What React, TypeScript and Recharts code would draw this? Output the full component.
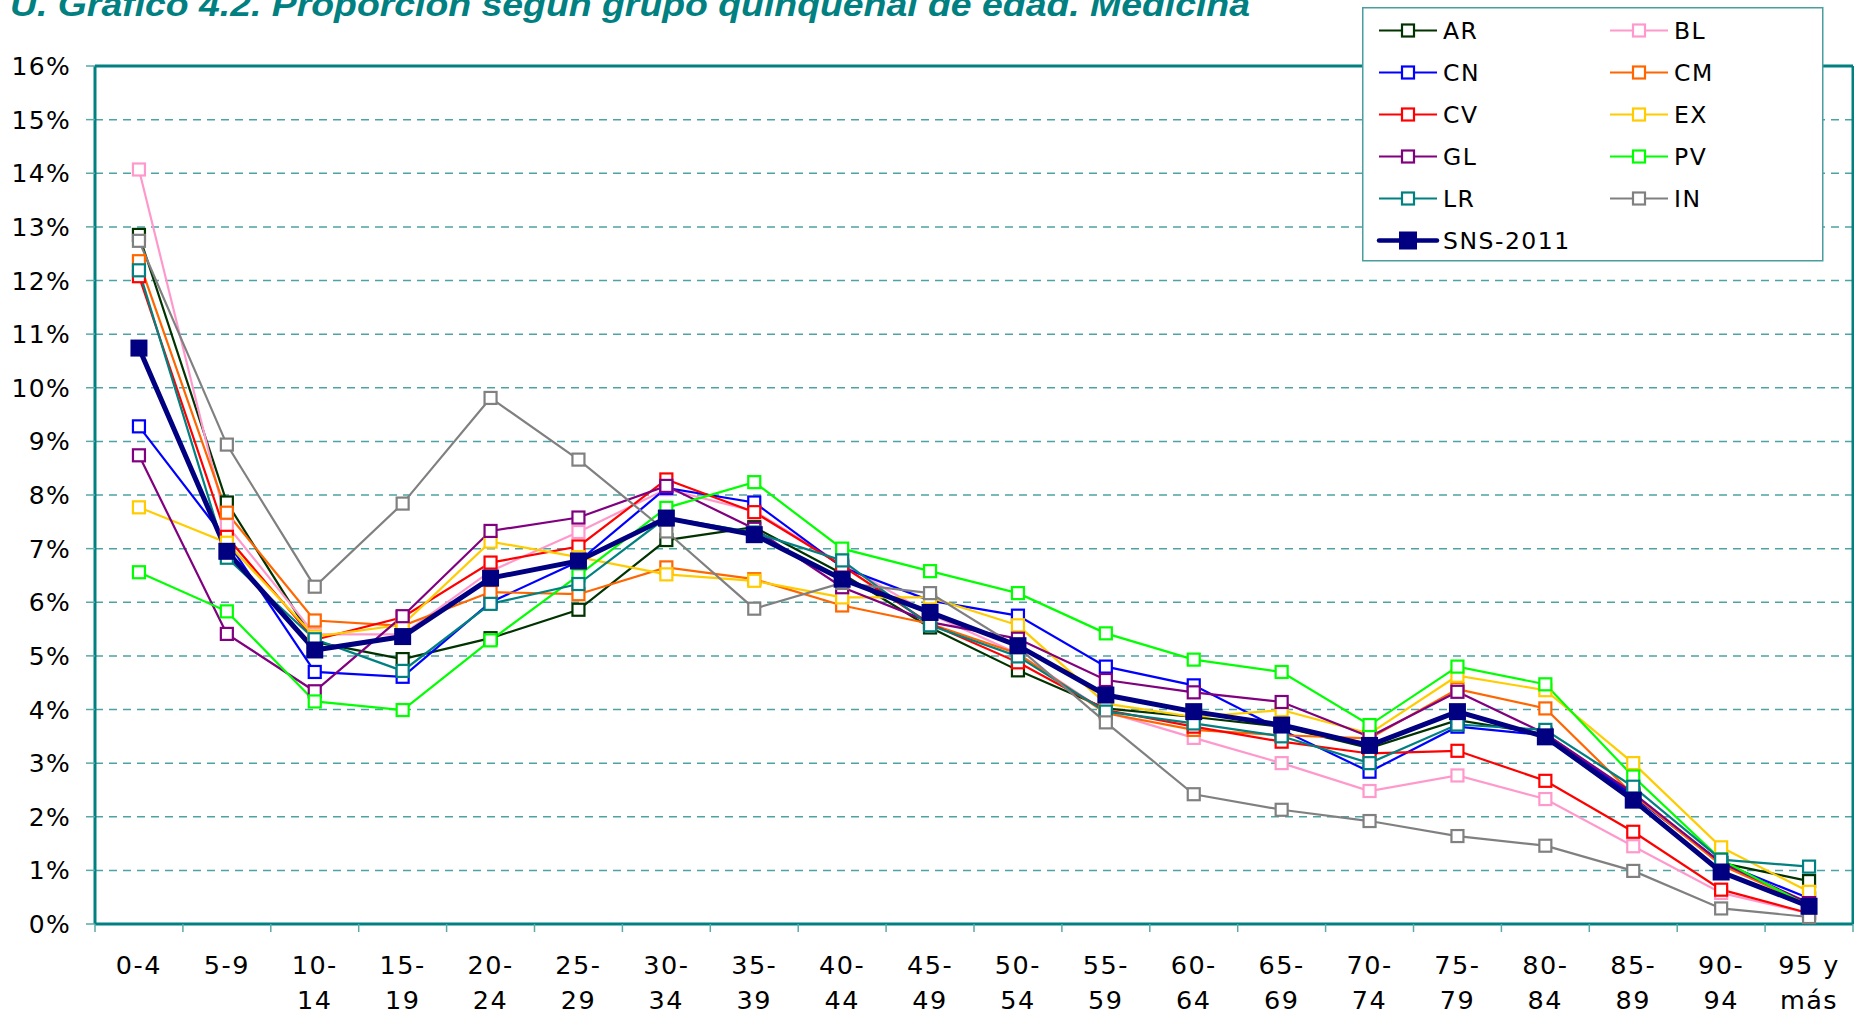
import React from 'react';
import { LineChart, Line, XAxis, YAxis, CartesianGrid, ReferenceLine, Legend } from 'recharts';

const categories = ['0-4', '5-9', '10-14', '15-19', '20-24', '25-29', '30-34', '35-39', '40-44', '45-49', '50-54', '55-59', '60-64', '65-69', '70-74', '75-79', '80-84', '85-89', '90-94', '95 y más'];
const tickLine1 = ['0-4', '5-9', '10-', '15-', '20-', '25-', '30-', '35-', '40-', '45-', '50-', '55-', '60-', '65-', '70-', '75-', '80-', '85-', '90-', '95 y'];
const tickLine2 = ['', '', '14', '19', '24', '29', '34', '39', '44', '49', '54', '59', '64', '69', '74', '79', '84', '89', '94', 'más'];
const yTicks = [0, 1, 2, 3, 4, 5, 6, 7, 8, 9, 10, 11, 12, 13, 14, 15, 16];

const AR = [12.85, 7.86, 5.26, 4.94, 5.33, 5.86, 7.16, 7.4, 6.53, 5.53, 4.73, 4.02, 3.86, 3.68, 3.28, 3.8, 3.54, 2.41, 1.14, 0.8];
const BL = [14.07, 7.44, 5.4, 5.4, 6.58, 7.31, 8.11, 7.7, 6.71, 5.78, 5.04, 3.96, 3.47, 3.0, 2.48, 2.77, 2.33, 1.45, 0.58, 0.2];
const CN = [9.28, 7.15, 4.7, 4.61, 6.0, 6.76, 8.13, 7.86, 6.65, 6.03, 5.75, 4.8, 4.45, 3.62, 2.84, 3.68, 3.52, 2.38, 1.14, 0.48];
const CM = [12.36, 7.67, 5.66, 5.56, 6.19, 6.15, 6.65, 6.43, 5.94, 5.6, 5.04, 3.93, 3.62, 3.52, 3.46, 4.38, 4.02, 2.41, 1.1, 0.36];
const CV = [12.08, 7.22, 5.3, 5.72, 6.74, 7.04, 8.29, 7.68, 6.68, 5.6, 4.88, 3.99, 3.68, 3.4, 3.18, 3.23, 2.67, 1.72, 0.64, 0.2];
const EX = [7.77, 7.11, 5.36, 5.58, 7.13, 6.84, 6.52, 6.4, 6.09, 6.09, 5.57, 4.11, 3.86, 3.99, 3.55, 4.63, 4.36, 3.0, 1.43, 0.6];
const GL = [8.74, 5.41, 4.34, 5.74, 7.33, 7.58, 8.17, 7.37, 6.28, 5.63, 5.32, 4.55, 4.32, 4.14, 3.49, 4.33, 3.55, 2.44, 1.14, 0.39];
const PV = [6.56, 5.83, 4.15, 3.99, 5.29, 6.5, 7.76, 8.24, 7.0, 6.58, 6.17, 5.42, 4.93, 4.7, 3.71, 4.8, 4.47, 2.75, 1.2, 0.33];
const LR = [12.19, 6.83, 5.31, 4.72, 5.97, 6.34, 7.58, 7.3, 6.78, 5.57, 4.99, 3.96, 3.74, 3.5, 3.0, 3.72, 3.62, 2.56, 1.2, 1.07];
const IN = [12.74, 8.94, 6.29, 7.84, 9.81, 8.66, 7.32, 5.88, 6.36, 6.17, 5.16, 3.76, 2.42, 2.13, 1.92, 1.64, 1.46, 0.99, 0.29, 0.13];
const SNS = [10.74, 6.95, 5.11, 5.36, 6.45, 6.77, 7.57, 7.26, 6.43, 5.81, 5.19, 4.27, 3.96, 3.71, 3.33, 3.96, 3.49, 2.31, 0.97, 0.33];

const series = [
  { key: 'AR', color: '#003300', values: AR, main: false },
  { key: 'BL', color: '#FF99CC', values: BL, main: false },
  { key: 'CN', color: '#0000FF', values: CN, main: false },
  { key: 'CM', color: '#FF6600', values: CM, main: false },
  { key: 'CV', color: '#FF0000', values: CV, main: false },
  { key: 'EX', color: '#FFCC00', values: EX, main: false },
  { key: 'GL', color: '#800080', values: GL, main: false },
  { key: 'PV', color: '#00FF00', values: PV, main: false },
  { key: 'LR', color: '#008080', values: LR, main: false },
  { key: 'IN', color: '#808080', values: IN, main: false },
  { key: 'SNS-2011', color: '#000080', values: SNS, main: true },
];

const data = categories.map((c, i) => {
  const row: any = { pos: i + 0.5, cat: c };
  series.forEach((s) => { row[s.key] = s.values[i]; });
  return row;
});

const boundaryTicks = categories.map((_, i) => i).concat([categories.length]);
const centerTicks = categories.map((_, i) => i + 0.5);

const FONT = '"DejaVu Sans", Verdana, sans-serif';

const makeDot = (id: string, color: string, main: boolean) => (props: any) => {
  const { cx, cy, index } = props;
  if (cx == null || cy == null) return <g key={`${id}-${index}`} />;
  const size = main ? 17 : 12;
  return (
    <rect
      key={`${id}-${index}`}
      x={cx - size / 2}
      y={cy - size / 2}
      width={size}
      height={size}
      fill={main ? color : '#FFFFFF'}
      stroke={color}
      strokeWidth={main ? 0 : 2.2}
    />
  );
};

const YTick = (props: any) => {
  const { x, y, payload } = props;
  return (
    <text x={x} y={y} dy="0.36em" textAnchor="end" fontFamily={FONT} fontSize={25} letterSpacing={1.3} fill="#000">
      {`${payload.value}%`}
    </text>
  );
};

const XLabel = (props: any) => {
  const { x, y, payload } = props;
  const i = Math.floor(payload.value);
  return (
    <text x={x} y={y} textAnchor="middle" fontFamily={FONT} fontSize={25.5} letterSpacing={1.5} fill="#000">
      <tspan x={x} dy={42}>{tickLine1[i]}</tspan>
      {tickLine2[i] ? <tspan x={x} dy={35}>{tickLine2[i]}</tspan> : null}
    </text>
  );
};

const LegendBox = () => {
  const items = series.map((s, i) => ({ s, col: i % 2, row: Math.floor(i / 2) }));
  return (
    <svg width={462} height={255} style={{ display: 'block' }}>
      <rect x={0.75} y={0.75} width={460} height={253} fill="#FFFFFF" stroke="#4a9e9e" strokeWidth={1.5} />
      {items.map(({ s, col, row }) => {
        const cy = 23.5 + row * 42;
        const x0 = col === 0 ? 17 : 248;
        const size = s.main ? 18 : 12;
        return (
          <g key={s.key}>
            <line x1={x0} x2={x0 + 58} y1={cy} y2={cy} stroke={s.color} strokeWidth={s.main ? 4.5 : 2.2} strokeLinecap={s.main ? 'round' : 'butt'} />
            <rect x={x0 + 29 - size / 2} y={cy - size / 2} width={size} height={size} fill={s.main ? s.color : '#FFFFFF'} stroke={s.color} strokeWidth={s.main ? 0 : 2.2} />
            <text x={x0 + 64} y={cy + 8.5} fontFamily={FONT} fontSize={23.5} letterSpacing={1.5} fill="#000">{s.key}</text>
          </g>
        );
      })}
    </svg>
  );
};

export default function App() {
  return (
    <div style={{ position: 'absolute', left: 0, top: 0, width: 1854, height: 1013, overflow: 'hidden', background: '#FFFFFF' }}>
      <LineChart width={1854} height={1013} data={data} margin={{ top: 66, right: 0, bottom: 0, left: 0 }}>
        <CartesianGrid vertical={false} stroke="#4da3a3" strokeWidth={1.5} strokeDasharray="8 6" />
        <XAxis
          type="number"
          dataKey="pos"
          domain={[0, 20]}
          allowDataOverflow
          ticks={boundaryTicks}
          interval={0}
          tickFormatter={() => ''}
          tickSize={8}
          height={8}
          tickLine={{ stroke: '#5aa9a9', strokeWidth: 1.5 }}
          axisLine={{ stroke: '#008080', strokeWidth: 3 }}
        />
        <XAxis
          xAxisId="lbl"
          type="number"
          dataKey="pos"
          domain={[0, 20]}
          allowDataOverflow
          ticks={centerTicks}
          interval={0}
          tick={<XLabel />}
          tickSize={0}
          tickMargin={0}
          height={81}
          tickLine={false}
          axisLine={false}
        />
        <YAxis
          domain={[0, 16]}
          ticks={yTicks}
          interval={0}
          width={95}
          tick={<YTick />}
          tickSize={9}
          tickMargin={15}
          tickLine={{ stroke: '#5aa9a9', strokeWidth: 1.5 }}
          axisLine={{ stroke: '#008080', strokeWidth: 3 }}
        />
        <YAxis
          yAxisId="right"
          orientation="right"
          domain={[0, 16]}
          width={1}
          tick={false}
          tickLine={false}
          axisLine={{ stroke: '#008080', strokeWidth: 3 }}
        />
        <ReferenceLine y={16} stroke="#008080" strokeWidth={3} />
        {series.map((s) => (
          <Line
            key={s.key}
            dataKey={s.key}
            name={s.key}
            type="linear"
            stroke={s.color}
            strokeWidth={s.main ? 5 : 2.2}
            dot={makeDot(s.key, s.color, s.main)}
            activeDot={false}
            isAnimationActive={false}
          />
        ))}
        <Legend
          layout="horizontal"
          verticalAlign="middle"
          align="center"
          content={<LegendBox />}
          wrapperStyle={{ position: 'absolute', left: 1362, top: 7, width: 462, height: 255 }}
        />
      </LineChart>
      <svg width={1854} height={40} style={{ position: 'absolute', left: 0, top: 0 }}>
        <text
          x={10}
          y={15.7}
          fontFamily='"Liberation Sans", Arial, sans-serif'
          fontWeight="bold"
          fontStyle="italic"
          fontSize={32.7}
          fill="#008080"
          textLength={1240}
          lengthAdjust="spacingAndGlyphs"
        >
          U. Gráfico 4.2. Proporción según grupo quinquenal de edad. Medicina
        </text>
      </svg>
    </div>
  );
}
